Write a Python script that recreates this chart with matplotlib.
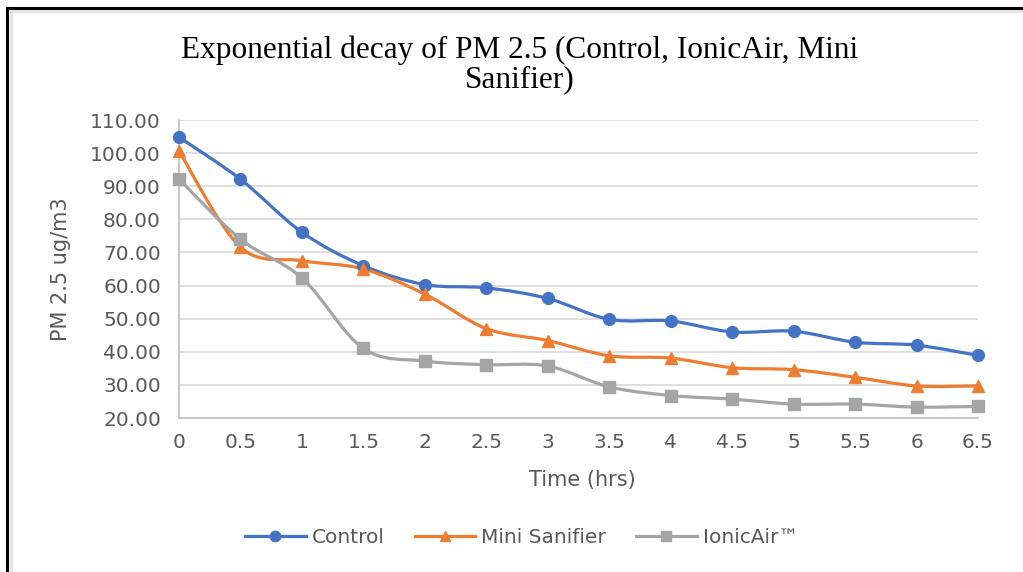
import numpy as np
import matplotlib
matplotlib.use('Agg')
import matplotlib.pyplot as plt
from matplotlib.path import Path
from matplotlib.patches import PathPatch
from matplotlib.lines import Line2D

# data
time_hrs = [0, 0.5, 1, 1.5, 2, 2.5, 3, 3.5, 4, 4.5, 5, 5.5, 6, 6.5]
time_labels = ['0', '0.5', '1', '1.5', '2', '2.5', '3', '3.5', '4', '4.5', '5', '5.5', '6', '6.5']
control = [104.8, 92.1, 76.1, 66.0, 60.3, 59.3, 56.1, 49.8, 49.3, 46.0, 46.2, 42.9, 42.0, 38.9]
mini_sanifier = [100.6, 71.6, 67.5, 65.0, 57.4, 47.0, 43.4, 38.8, 38.1, 35.2, 34.6, 32.3, 29.7, 29.7]
ionic_air = [92.1, 74.0, 62.3, 41.0, 37.2, 36.1, 35.7, 29.4, 26.8, 25.7, 24.2, 24.2, 23.3, 23.5]
y_ticks = np.arange(20, 111, 10)

series = [
    ('Control', control, '#4472C4', 'o', 8.5),
    ('Mini Sanifier', mini_sanifier, '#ED7D31', '^', 8.5),
    ('IonicAir™', ionic_air, '#A5A5A5', 's', 8),
]

TEXT = '#595959'
GRID = '#D9D9D9'


def smooth_path(x, y):
    # Excel-style smoothed line: cubic bezier through every point (Catmull-Rom)
    p = np.column_stack([x, y]).astype(float)
    verts = [p[0]]
    codes = [Path.MOVETO]
    n = len(p)
    for i in range(n - 1):
        p0 = p[i - 1] if i > 0 else p[i]
        p3 = p[i + 2] if i + 2 < n else p[i + 1]
        c1 = p[i] + (p[i + 1] - p0) / 6
        c2 = p[i + 1] - (p3 - p[i]) / 6
        verts += [c1, c2, p[i + 1]]
        codes += [Path.CURVE4] * 3
    return Path(verts, codes)


fig = plt.figure(figsize=(10.23, 5.72), dpi=100)
ax = fig.add_axes([0.175, 0.2692, 0.781, 0.521])

handles = []
for name, vals, color, marker, ms in series:
    ax.add_patch(PathPatch(smooth_path(time_hrs, vals), facecolor='none',
                           edgecolor=color, lw=2.3, capstyle='round', zorder=3))
    ax.plot(time_hrs, vals, linestyle='none', marker=marker, ms=ms,
            color=color, zorder=4, clip_on=False)
    handles.append(Line2D([], [], color=color, lw=2.3, marker=marker, ms=ms - 1))

ax.set_xlim(0, 6.5)
ax.set_ylim(20, 110)
ax.set_xticks(time_hrs)
ax.set_xticklabels(time_labels)
ax.set_yticks(y_ticks)
ax.set_yticklabels([f'{v:.2f}' for v in y_ticks])
ax.tick_params(length=0, labelsize=14.5, labelcolor=TEXT)
ax.tick_params(axis='x', pad=11)
ax.tick_params(axis='y', pad=13)
ax.grid(axis='y', color=GRID, lw=1.2)
ax.set_axisbelow(True)
for s in ['top', 'right']:
    ax.spines[s].set_visible(False)
for s in ['left', 'bottom']:
    ax.spines[s].set_color('#BFBFBF')
    ax.spines[s].set_linewidth(1.2)

ax.set_xlabel('Time (hrs)', fontsize=15, color=TEXT, labelpad=13, x=0.505)
ax.set_ylabel('PM 2.5 ug/m3', fontsize=15, color=TEXT, labelpad=14)

fig.text(0.508, 0.887, 'Exponential decay of PM 2.5 (Control, IonicAir, Mini\nSanifier)',
         ha='center', va='center', fontsize=22.5, family='Liberation Serif',
         linespacing=1.03)

fig.legend(handles, [s[0] for s in series], loc='center', ncol=3,
           bbox_to_anchor=(0.51, 0.06), frameon=False, fontsize=14.5,
           labelcolor=TEXT, handlelength=3, columnspacing=1.5, handletextpad=0.3)

# cropped frame lines along top and left edges
fig.add_artist(Line2D([0.0065, 1], [1 - 7.5 / 572, 1 - 7.5 / 572], color='black', lw=2.2))
fig.add_artist(Line2D([6.5 / 1023, 6.5 / 1023], [0, 1 - 7.5 / 572], color='black', lw=2.2))
fig.add_artist(Line2D([0.0105, 1], [1 - 11 / 572, 1 - 11 / 572], color='#E3E3E3', lw=2))
fig.add_artist(Line2D([10.5 / 1023, 10.5 / 1023], [0, 1 - 11 / 572], color='#E3E3E3', lw=2))

fig.savefig('out.png', dpi=100)
